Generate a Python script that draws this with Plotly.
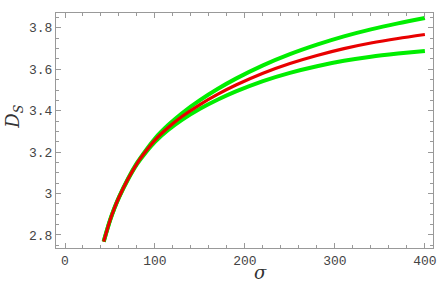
import plotly.graph_objects as go

sigma = [43, 50, 55, 60, 70, 80, 90, 100, 115, 130, 150, 170, 190, 220, 250, 280, 310, 340, 370, 400]
ds_mid = [2.768, 2.87, 2.93, 2.982, 3.07, 3.145, 3.205, 3.258, 3.32, 3.372, 3.43, 3.48, 3.524, 3.581, 3.628, 3.667, 3.70, 3.727, 3.749, 3.768]
ds_upper = [2.768, 2.87, 2.93, 2.983, 3.072, 3.148, 3.21, 3.266, 3.332, 3.388, 3.451, 3.506, 3.555, 3.619, 3.673, 3.719, 3.759, 3.793, 3.822, 3.848]
ds_lower = [2.768, 2.87, 2.93, 2.981, 3.068, 3.142, 3.20, 3.25, 3.308, 3.356, 3.409, 3.454, 3.493, 3.543, 3.583, 3.615, 3.641, 3.661, 3.676, 3.689]

x_ticks = [0, 100, 200, 300, 400]
y_ticks = [2.8, 3.0, 3.2, 3.4, 3.6, 3.8]
y_tick_text = ["2.8", "3", "3.2", "3.4", "3.6", "3.8"]

GREEN = "#00ee00"
RED = "#e80000"

fig = go.Figure()
for ys in (ds_upper, ds_lower):
    fig.add_trace(go.Scatter(x=sigma, y=ys, mode="lines",
                             line=dict(color=GREEN, width=4, shape="spline", smoothing=0.8),
                             showlegend=False, hoverinfo="skip"))
fig.add_trace(go.Scatter(x=sigma, y=ds_mid, mode="lines",
                         line=dict(color=RED, width=3.2, shape="spline", smoothing=0.8),
                         showlegend=False, hoverinfo="skip"))

tickfont = dict(family="Liberation Mono", size=13, color="#444444")
axis_common = dict(
    showgrid=False, zeroline=False, showline=True, linecolor="#999999", linewidth=1,
    mirror="allticks", ticks="inside", tickcolor="#999999", ticklen=5, tickwidth=1,
    tickfont=tickfont,
)

fig.update_xaxes(
    range=[-10, 409], tickvals=x_ticks, ticktext=[str(v) for v in x_ticks],
    minor=dict(dtick=20, tick0=0, ticks="inside", ticklen=3, tickcolor="#999999", showgrid=False),
    **axis_common,
)
fig.update_yaxes(
    range=[2.737, 3.872], tickvals=y_ticks, ticktext=y_tick_text,
    minor=dict(dtick=0.05, tick0=2.8, ticks="inside", ticklen=3, tickcolor="#999999", showgrid=False),
    **axis_common,
)

fig.add_annotation(text="<i>σ</i>", xref="paper", yref="paper", x=0.543, y=-0.106,
                   showarrow=False, xanchor="center", yanchor="middle",
                   font=dict(family="DejaVu Serif", size=18, color="#333333"))
fig.add_annotation(text="<i>D</i><sub><i>S</i></sub>", xref="paper", yref="paper", x=-0.11, y=0.557,
                   showarrow=False, xanchor="center", yanchor="middle", textangle=-90,
                   font=dict(family="DejaVu Serif", size=18, color="#333333"))

fig.update_layout(
    width=448, height=286,
    margin=dict(l=56, r=11, t=13, b=38),
    paper_bgcolor="white", plot_bgcolor="white",
)

fig.write_html("out.html")
